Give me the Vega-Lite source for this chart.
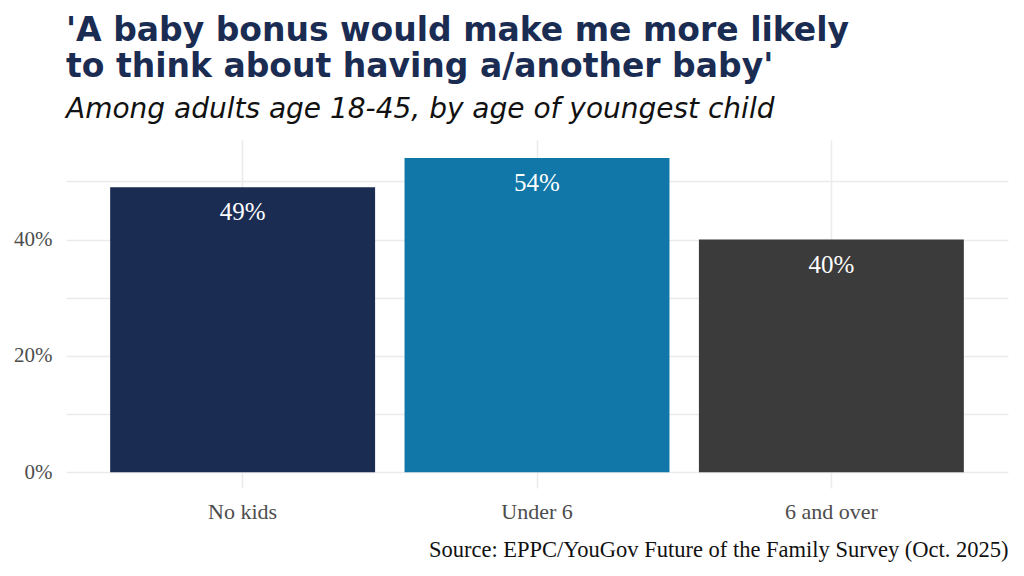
{
  "$schema": "https://vega.github.io/schema/vega-lite/v6.json",
  "autosize": "none",
  "width": 942,
  "height": 348,
  "padding": {"left": 66, "top": 140, "right": 16, "bottom": 88},
  "background": "white",
  "config": {
    "view": {"stroke": null},
    "font": "Liberation Serif"
  },
  "title": {
    "text": ["'A baby bonus would make me more likely", "to think about having a/another baby'"],
    "subtitle": "Among adults age 18-45, by age of youngest child",
    "anchor": "start",
    "frame": "group",
    "font": "DejaVu Sans",
    "fontSize": 33,
    "fontWeight": "bold",
    "color": "#1b2c53",
    "lineHeight": 36,
    "subtitleFont": "DejaVu Sans",
    "subtitleFontSize": 28,
    "subtitleFontStyle": "italic",
    "subtitleColor": "#111111",
    "subtitlePadding": 12,
    "offset": 16
  },
  "data": {
    "values": [
      {"group": "No kids", "pct": 0.49},
      {"group": "Under 6", "pct": 0.54},
      {"group": "6 and over", "pct": 0.40}
    ]
  },
  "encoding": {
    "x": {
      "field": "group",
      "type": "nominal",
      "sort": null,
      "scale": {"paddingInner": 0.1, "paddingOuter": 0.15},
      "axis": {
        "title": "Source: EPPC/YouGov Future of the Family Survey (Oct. 2025)",
        "titleAnchor": "end",
        "titleAlign": "right",
        "titleFont": "Liberation Serif",
        "titleFontSize": 22.5,
        "titleFontWeight": "normal",
        "titleColor": "#111111",
        "titlePadding": 16,
        "labelAngle": 0,
        "labelFont": "Liberation Serif",
        "labelFontSize": 22,
        "labelColor": "#4d4d4d",
        "labelPadding": 13,
        "domain": false,
        "ticks": false,
        "grid": true,
        "bandPosition": 0.5,
        "gridColor": "#ebebeb",
        "gridWidth": 1.5
      }
    },
    "y": {
      "field": "pct",
      "type": "quantitative",
      "scale": {"domain": [-0.027, 0.571], "nice": false, "zero": false},
      "axis": {
        "title": null,
        "values": [0, 0.1, 0.2, 0.3, 0.4, 0.5],
        "labelExpr": "round(datum.value * 100) % 20 == 0 ? format(datum.value, '.0%') : ''",
        "labelFont": "Liberation Serif",
        "labelFontSize": 21,
        "labelColor": "#4d4d4d",
        "labelPadding": 14,
        "domain": false,
        "ticks": false,
        "gridColor": "#ebebeb",
        "gridWidth": 1.5
      }
    }
  },
  "layer": [
    {
      "mark": {"type": "bar"},
      "encoding": {
        "y2": {"datum": 0},
        "color": {
          "field": "group",
          "type": "nominal",
          "scale": {
            "domain": ["No kids", "Under 6", "6 and over"],
            "range": ["#1b2c53", "#1077a8", "#3b3b3b"]
          },
          "legend": null
        }
      }
    },
    {
      "mark": {
        "type": "text",
        "baseline": "top",
        "dy": 13,
        "color": "white",
        "font": "Liberation Serif",
        "fontSize": 25
      },
      "encoding": {
        "text": {"field": "pct", "type": "quantitative", "format": ".0%"},
        "detail": {"field": "group"}
      }
    }
  ]
}
